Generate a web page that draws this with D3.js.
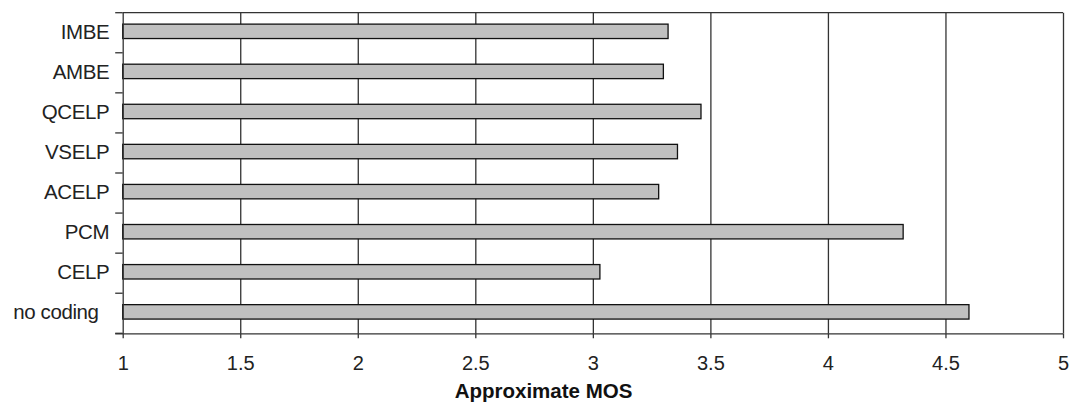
<!DOCTYPE html>
<html>
<head>
<meta charset="utf-8">
<script src="https://cdn.jsdelivr.net/npm/d3@7"></script>
<style>
  html, body { margin: 0; padding: 0; background: #fff; }
  svg { display: block; font-family: "Liberation Sans", Arial, sans-serif; }
</style>
</head>
<body>
<svg id="chart" width="1072" height="406"></svg>
<script>
const categories = ["IMBE", "AMBE", "QCELP", "VSELP", "ACELP", "PCM", "CELP", "no coding"];
const mosValues = [3.32, 3.30, 3.46, 3.36, 3.28, 4.32, 3.03, 4.60];
const xTickValues = [1, 1.5, 2, 2.5, 3, 3.5, 4, 4.5, 5];
const xTickLabels = ["1", "1.5", "2", "2.5", "3", "3.5", "4", "4.5", "5"];
const xAxisTitle = "Approximate MOS";

(function () {
const data = categories.map((c, i) => ({ cat: c, value: mosValues[i] }));

const svg = d3.select("#chart");
const pLeft = 122.7, pRight = 1063, pTop = 12.7, pBottom = 333.3;
const lineColor = "#333";
const textColor = "#222";

const x = d3.scaleLinear().domain([1, 5]).range([pLeft, pRight]);
const y = d3.scaleBand().domain(categories).range([pTop, pBottom]).padding(0);

// gridlines
const grid = svg.append("g").attr("transform", `translate(0,${pBottom})`)
  .call(d3.axisBottom(x).tickValues(xTickValues.slice(1)).tickSize(-(pBottom - pTop)).tickFormat(""));
grid.select(".domain").remove();
grid.selectAll("line").attr("stroke", lineColor).attr("stroke-width", 1.3);

// top frame
svg.append("line").attr("x1", pLeft).attr("x2", pRight).attr("y1", pTop).attr("y2", pTop)
  .attr("stroke", lineColor).attr("stroke-width", 1.3);

// bars
const bw = y.bandwidth();
svg.append("g").selectAll("rect").data(data).join("rect")
  .attr("x", x(1))
  .attr("y", d => y(d.cat) + bw * 0.285)
  .attr("width", d => x(d.value) - x(1))
  .attr("height", bw * 0.36)
  .attr("fill", "#c0c0c0")
  .attr("stroke", "#111")
  .attr("stroke-width", 1.3);

// x axis
const xAxis = svg.append("g").attr("transform", `translate(0,${pBottom})`)
  .call(d3.axisBottom(x).tickValues(xTickValues).tickSize(5).tickPadding(18)
    .tickFormat((d, i) => xTickLabels[i]));
xAxis.select(".domain").attr("d", `M${pLeft - 7.5},0.5H${pRight}`).attr("stroke", lineColor).attr("stroke-width", 1.3);
xAxis.selectAll(".tick line").attr("stroke", lineColor).attr("stroke-width", 1.3);
xAxis.selectAll(".tick text").attr("fill", textColor).attr("font-size", 20).attr("font-family", "Liberation Sans, Arial, sans-serif");

// y axis
const yAxis = svg.append("g").attr("transform", `translate(${pLeft},0)`)
  .call(d3.axisLeft(y).tickSize(0).tickPadding(13.5));
yAxis.select(".domain").attr("d", `M0.5,${pTop}V${pBottom}`).attr("stroke", lineColor).attr("stroke-width", 1.3);
yAxis.selectAll(".tick text").attr("fill", textColor).attr("font-size", 20.5)
  .attr("font-family", "Liberation Sans, Arial, sans-serif")
  .attr("dy", "0.3em")
  .attr("letter-spacing", -0.4)
  .style("white-space", "pre")
  .text(d => d === "no coding" ? d + "  " : d);

// category boundary ticks
const bounds = categories.map(c => y(c)).concat([y.range()[1]]);
svg.append("g").selectAll("line").data(bounds).join("line")
  .attr("x1", pLeft - 7.5).attr("x2", pLeft)
  .attr("y1", d => d).attr("y2", d => d)
  .attr("stroke", lineColor).attr("stroke-width", 1.3);

// axis title
svg.append("text")
  .attr("x", 543.5).attr("y", 398)
  .attr("text-anchor", "middle")
  .attr("font-size", 20.5).attr("font-weight", "bold")
  .attr("fill", "#111")
  .text(xAxisTitle);
})();
</script>
</body>
</html>
